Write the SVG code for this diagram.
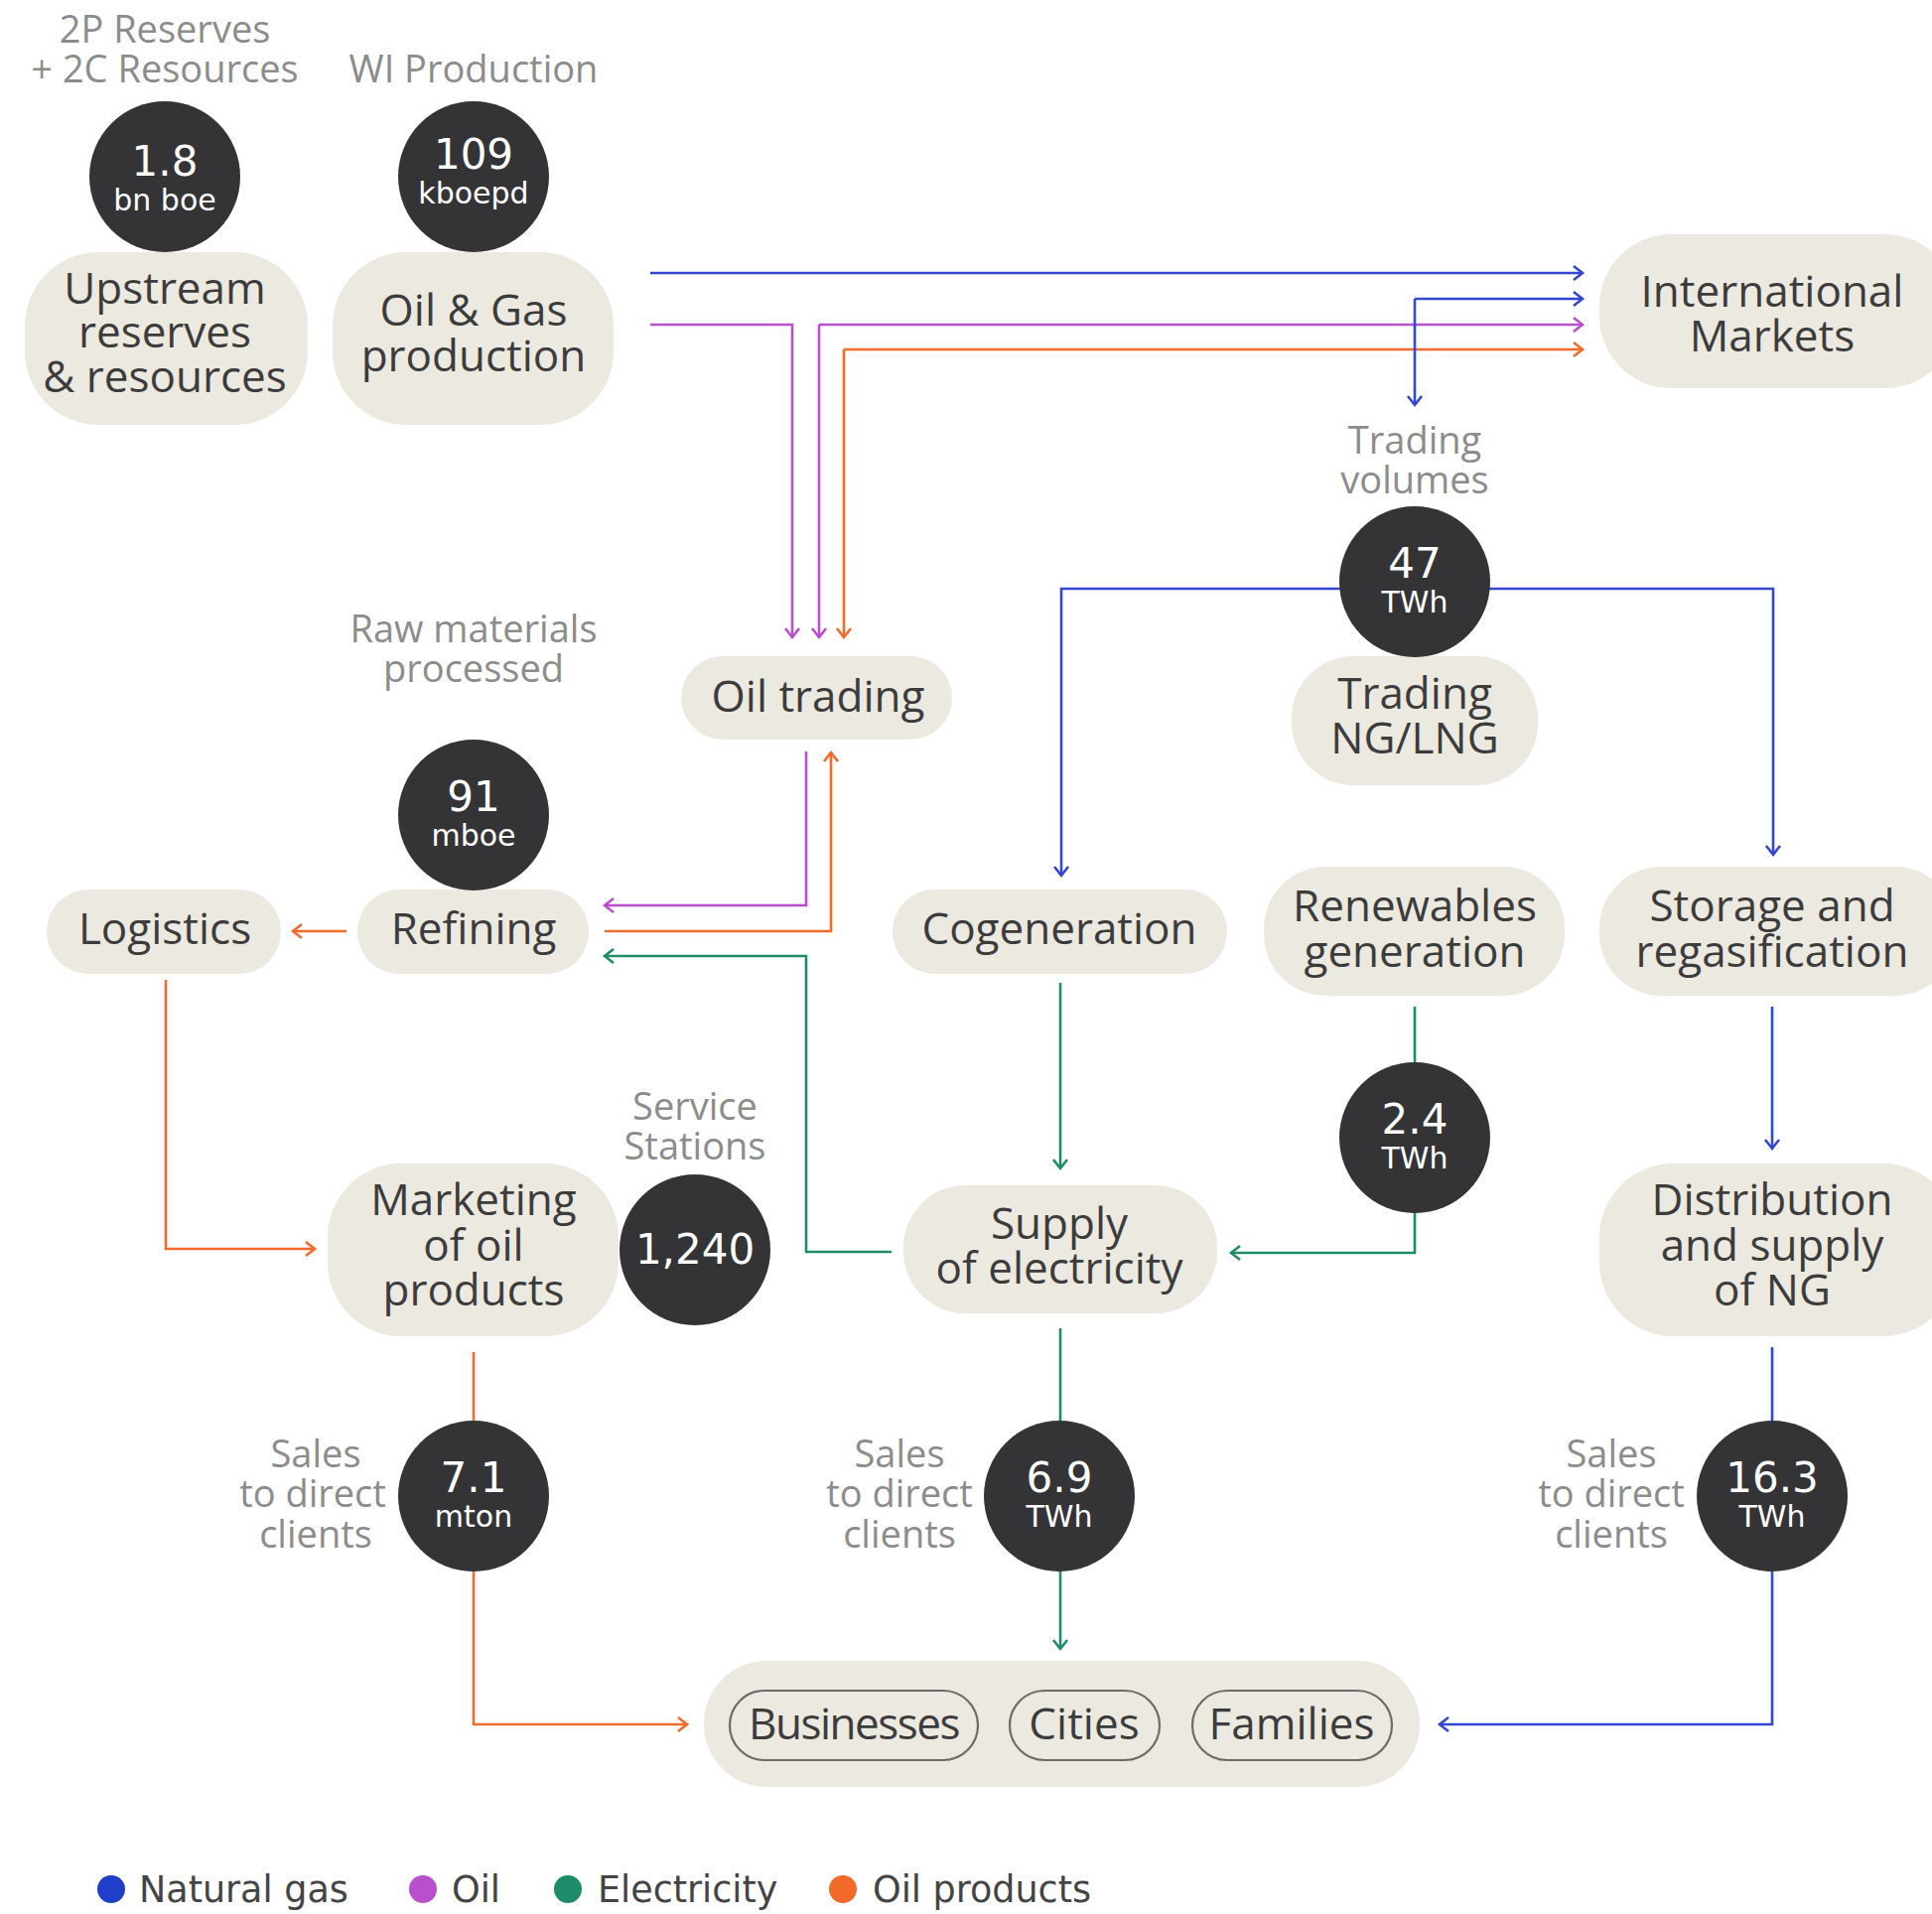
<svg xmlns="http://www.w3.org/2000/svg" width="1946" height="1928" viewBox="0 0 1946 1928">
<defs>
<style>
.pill{fill:#ECE9E1}
.dark{fill:#343437}
.t{font-family:"Open Sans","Lato",sans-serif;font-size:44px;fill:#3c3c3c;text-anchor:middle}
.g{font-family:"Open Sans","Lato",sans-serif;font-size:38px;fill:#8c8c8c;text-anchor:middle}
.n{font-family:"DejaVu Sans",sans-serif;font-size:42px;fill:#ffffff;text-anchor:middle}
.u{font-family:"DejaVu Sans",sans-serif;font-size:30px;fill:#ffffff;text-anchor:middle}
.lg{font-family:"DejaVu Sans",sans-serif;font-size:36.5px;fill:#444444}
.c{fill:none;stroke-width:2.6;stroke-linejoin:miter}
.b{stroke:#3347D1}.p{stroke:#B94FCC}.e{stroke:#1E8C68}.o{stroke:#F26B2A}
.cust{fill:none;stroke:#6b6b6b;stroke-width:2.2}
</style>
<marker id="ab" markerWidth="14" markerHeight="18" refX="11" refY="9" orient="auto" markerUnits="userSpaceOnUse"><path d="M2,2 L11,9 L2,16" fill="none" stroke="#3347D1" stroke-width="2.6"/></marker>
<marker id="ap" markerWidth="14" markerHeight="18" refX="11" refY="9" orient="auto" markerUnits="userSpaceOnUse"><path d="M2,2 L11,9 L2,16" fill="none" stroke="#B94FCC" stroke-width="2.6"/></marker>
<marker id="ae" markerWidth="14" markerHeight="18" refX="11" refY="9" orient="auto" markerUnits="userSpaceOnUse"><path d="M2,2 L11,9 L2,16" fill="none" stroke="#1E8C68" stroke-width="2.6"/></marker>
<marker id="ao" markerWidth="14" markerHeight="18" refX="11" refY="9" orient="auto" markerUnits="userSpaceOnUse"><path d="M2,2 L11,9 L2,16" fill="none" stroke="#F26B2A" stroke-width="2.6"/></marker>
</defs>
<rect width="1946" height="1928" fill="#ffffff"/>

<g id="connectors">
<path class="c b" d="M655,275 L1594,275" marker-end="url(#ab)"/>
<path class="c p" d="M655,327 L798,327 L798,642" marker-end="url(#ap)"/>
<path class="c p" d="M825,327 L1594,327" marker-end="url(#ap)"/>
<path class="c p" d="M825,327 L825,642" marker-end="url(#ap)"/>
<path class="c o" d="M850,352 L1594,352" marker-end="url(#ao)"/>
<path class="c o" d="M850,352 L850,642" marker-end="url(#ao)"/>
<path class="c b" d="M1425,301 L1594,301" marker-end="url(#ab)"/>
<path class="c b" d="M1425,301 L1425,408" marker-end="url(#ab)"/>
<path class="c b" d="M1425,593 L1069,593 L1069,882" marker-end="url(#ab)"/>
<path class="c b" d="M1425,593 L1786,593 L1786,861" marker-end="url(#ab)"/>
<path class="c p" d="M812,757 L812,912 L609,912" marker-end="url(#ap)"/>
<path class="c o" d="M609,938 L837,938 L837,758" marker-end="url(#ao)"/>
<path class="c e" d="M898,1261 L812,1261 L812,963 L609,963" marker-end="url(#ae)"/>
<path class="c o" d="M349,938 L295,938" marker-end="url(#ao)"/>
<path class="c o" d="M167,987 L167,1258 L317,1258" marker-end="url(#ao)"/>
<path class="c e" d="M1068,990 L1068,1177" marker-end="url(#ae)"/>
<path class="c e" d="M1425,1014 L1425,1262 L1240,1262" marker-end="url(#ae)"/>
<path class="c b" d="M1785,1014 L1785,1157" marker-end="url(#ab)"/>
<path class="c o" d="M477,1362 L477,1737 L692,1737" marker-end="url(#ao)"/>
<path class="c e" d="M1068,1338 L1068,1661" marker-end="url(#ae)"/>
<path class="c b" d="M1785,1357 L1785,1737 L1450,1737" marker-end="url(#ab)"/>
</g>

<g id="labels">
<text class="g" x="166" y="43">2P Reserves</text>
<text class="g" x="166" y="83">+ 2C Resources</text>
<text class="g" x="477" y="83">WI Production</text>
<text class="g" x="1425" y="457">Trading</text>
<text class="g" x="1425" y="497">volumes</text>
<text class="g" x="477" y="647">Raw materials</text>
<text class="g" x="477" y="687">processed</text>
<text class="g" x="700" y="1128">Service</text>
<text class="g" x="700" y="1168">Stations</text>
<text class="g" x="318" y="1478">Sales</text>
<text class="g" x="315" y="1518">to direct</text>
<text class="g" x="318" y="1559">clients</text>
<text class="g" x="906" y="1478">Sales</text>
<text class="g" x="906" y="1518">to direct</text>
<text class="g" x="906" y="1559">clients</text>
<text class="g" x="1623" y="1478">Sales</text>
<text class="g" x="1623" y="1518">to direct</text>
<text class="g" x="1623" y="1559">clients</text>
</g>

<g id="upstream"><rect class="pill" x="25" y="254" width="285" height="174" rx="74"/>
<text class="t" x="166" y="306">Upstream</text><text class="t" x="166" y="350">reserves</text><text class="t" x="166" y="395">&amp; resources</text></g>
<g id="production"><rect class="pill" x="335" y="254" width="283" height="174" rx="74"/>
<text class="t" x="477" y="328">Oil &amp; Gas</text><text class="t" x="477" y="374">production</text></g>
<g id="intl"><rect class="pill" x="1611" y="236" width="360" height="155" rx="72"/>
<text class="t" x="1785" y="309">International</text><text class="t" x="1785" y="354">Markets</text></g>
<g id="oiltrading"><rect class="pill" x="686" y="661" width="273" height="84" rx="42"/>
<text class="t" x="824" y="717">Oil trading</text></g>
<g id="tradingng"><rect class="pill" x="1301" y="661" width="248" height="130" rx="62"/>
<text class="t" x="1425" y="714">Trading</text><text class="t" x="1425" y="759">NG/LNG</text></g>
<g id="logistics"><rect class="pill" x="47" y="896" width="236" height="85" rx="42"/>
<text class="t" x="166" y="951">Logistics</text></g>
<g id="refining"><rect class="pill" x="360" y="896" width="233" height="85" rx="42"/>
<text class="t" x="477" y="951">Refining</text></g>
<g id="cogeneration"><rect class="pill" x="899" y="896" width="337" height="85" rx="42"/>
<text class="t" x="1067" y="951">Cogeneration</text></g>
<g id="renewables"><rect class="pill" x="1273" y="873" width="303" height="130" rx="62"/>
<text class="t" x="1425" y="928">Renewables</text><text class="t" x="1425" y="974">generation</text></g>
<g id="storage"><rect class="pill" x="1611" y="873" width="360" height="130" rx="62"/>
<text class="t" x="1785" y="928">Storage and</text><text class="t" x="1785" y="974">regasification</text></g>
<g id="marketing"><rect class="pill" x="330" y="1172" width="293" height="174" rx="74"/>
<text class="t" x="477" y="1224">Marketing</text><text class="t" x="477" y="1270">of oil</text><text class="t" x="477" y="1315">products</text></g>
<g id="supply"><rect class="pill" x="910" y="1194" width="316" height="129" rx="62"/>
<text class="t" x="1067" y="1248">Supply</text><text class="t" x="1067" y="1293">of electricity</text></g>
<g id="distribution"><rect class="pill" x="1611" y="1172" width="360" height="174" rx="74"/>
<text class="t" x="1785" y="1224">Distribution</text><text class="t" x="1785" y="1270">and supply</text><text class="t" x="1785" y="1315">of NG</text></g>
<g id="customers"><rect class="pill" x="709" y="1673" width="721" height="127" rx="63"/>
<rect class="cust" x="735" y="1703" width="250" height="70" rx="35"/><text class="t" x="860" y="1752" style="letter-spacing:-1.5px">Businesses</text>
<rect class="cust" x="1017" y="1703" width="151" height="70" rx="35"/><text class="t" x="1092" y="1752">Cities</text>
<rect class="cust" x="1201" y="1703" width="201" height="70" rx="35"/><text class="t" x="1301" y="1752">Families</text></g>

<g id="kpi-reserves"><circle class="dark" cx="166" cy="178" r="76"/><text class="n" x="166" y="177">1.8</text><text class="u" x="166" y="212">bn boe</text></g>
<g id="kpi-production"><circle class="dark" cx="477" cy="178" r="76"/><text class="n" x="477" y="170">109</text><text class="u" x="477" y="205">kboepd</text></g>
<g id="kpi-trading"><circle class="dark" cx="1425" cy="586" r="76"/><text class="n" x="1425" y="582">47</text><text class="u" x="1425" y="617">TWh</text></g>
<g id="kpi-refining"><circle class="dark" cx="477" cy="821" r="76"/><text class="n" x="477" y="817">91</text><text class="u" x="477" y="852">mboe</text></g>
<g id="kpi-stations"><circle class="dark" cx="700" cy="1259" r="76"/><text class="n" x="700" y="1273">1,240</text></g>
<g id="kpi-renew"><circle class="dark" cx="1425" cy="1146" r="76"/><text class="n" x="1425" y="1142">2.4</text><text class="u" x="1425" y="1177">TWh</text></g>
<g id="kpi-oilsales"><circle class="dark" cx="477" cy="1507" r="76"/><text class="n" x="477" y="1503">7.1</text><text class="u" x="477" y="1538">mton</text></g>
<g id="kpi-elsales"><circle class="dark" cx="1067" cy="1507" r="76"/><text class="n" x="1067" y="1503">6.9</text><text class="u" x="1067" y="1538">TWh</text></g>
<g id="kpi-ngsales"><circle class="dark" cx="1785" cy="1507" r="76"/><text class="n" x="1785" y="1503">16.3</text><text class="u" x="1785" y="1538">TWh</text></g>

<g id="legend">
<circle cx="112" cy="1903" r="14" fill="#1F3FC8"/><text class="lg" x="140" y="1916">Natural gas</text>
<circle cx="426" cy="1903" r="14" fill="#B94FCC"/><text class="lg" x="455" y="1916">Oil</text>
<circle cx="572" cy="1903" r="14" fill="#1E8C68"/><text class="lg" x="602" y="1916">Electricity</text>
<circle cx="849" cy="1903" r="14" fill="#F26B2A"/><text class="lg" x="879" y="1916">Oil products</text>
</g>
</svg>
